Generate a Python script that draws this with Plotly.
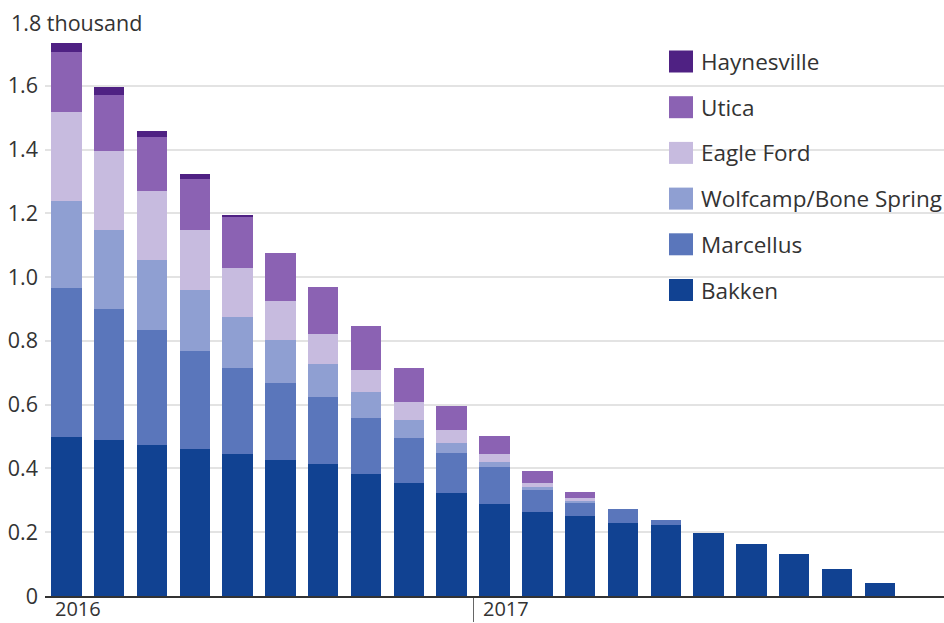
import plotly.graph_objects as go

# Monthly drilled-but-uncompleted well counts, thousands, by basin
periods = list(range(20))
bakken = [0.500, 0.489, 0.473, 0.460, 0.445, 0.428, 0.414, 0.382, 0.353, 0.322,
          0.290, 0.264, 0.251, 0.230, 0.222, 0.197, 0.163, 0.132, 0.085, 0.042]
marcellus = [0.465, 0.410, 0.361, 0.309, 0.269, 0.241, 0.209, 0.175, 0.144, 0.125,
             0.113, 0.068, 0.042, 0.043, 0.016, 0, 0, 0, 0, 0]
wolfcamp = [0.275, 0.248, 0.219, 0.192, 0.162, 0.134, 0.106, 0.083, 0.055, 0.033,
            0.018, 0.010, 0.007, 0, 0, 0, 0, 0, 0, 0]
eagle_ford = [0.279, 0.248, 0.217, 0.186, 0.154, 0.123, 0.094, 0.070, 0.057, 0.040,
              0.024, 0.011, 0.006, 0, 0, 0, 0, 0, 0, 0]
utica = [0.188, 0.176, 0.170, 0.162, 0.159, 0.151, 0.145, 0.136, 0.105, 0.077,
         0.057, 0.040, 0.019, 0, 0, 0, 0, 0, 0, 0]
haynesville = [0.028, 0.024, 0.019, 0.014, 0.005, 0, 0, 0, 0, 0,
               0, 0, 0, 0, 0, 0, 0, 0, 0, 0]

series_names = ["Bakken", "Marcellus", "Wolfcamp/Bone Spring", "Eagle Ford", "Utica", "Haynesville"]
series_values = [bakken, marcellus, wolfcamp, eagle_ford, utica, haynesville]
series_colors = ["#114292", "#5a76bb", "#8f9fd2", "#c7bbdf", "#8b62b3", "#4f2183"]

y_ticks = [0, 0.2, 0.4, 0.6, 0.8, 1.0, 1.2, 1.4, 1.6, 1.8]
y_tick_text = ["0", "0.2", "0.4", "0.6", "0.8", "1.0", "1.2", "1.4", "1.6", ""]
year_labels = ["2016", "2017"]
year_starts = [-0.5, 9.5]

FONT = "Open Sans"
FS = 21.5
TEXT = "#333333"
W, H = 944, 623
ML, MR, MT, MB = 45, 0, 22, 27

fig = go.Figure()
for name, vals, col in zip(series_names, series_values, series_colors):
    fig.add_trace(go.Bar(x=periods, y=vals, name=name, marker=dict(color=col, line=dict(width=0)),
                         width=0.71, showlegend=False))

fig.update_layout(
    barmode="stack",
    width=W, height=H,
    margin=dict(l=ML, r=MR, t=MT, b=MB),
    paper_bgcolor="white", plot_bgcolor="white",
    font=dict(family=FONT, size=FS, color=TEXT),
    xaxis=dict(range=[-0.5, 20.5], showgrid=False, zeroline=False,
               showline=True, linecolor="#333333", linewidth=1.5,
               tickvals=[year_starts[1]], ticks="outside", ticklen=24, tickwidth=1,
               tickcolor="#666666", showticklabels=False),
    yaxis=dict(range=[0, 1.8], tickvals=y_ticks, ticktext=y_tick_text,
               showgrid=True, gridcolor="#e3e3e3", gridwidth=1.5, zeroline=False,
               ticks="", ticklabelstandoff=6, tickfont=dict(size=FS, color=TEXT)),
)

plot_w = W - ML - MR
plot_h = H - MT - MB
def px_x(p):
    return (p - ML) / plot_w
def px_y(p):
    return (H - MB - p) / plot_h

# top axis label with the unit
fig.add_annotation(xref="paper", yref="y", x=px_x(7), y=1.8,
                   xanchor="left", yanchor="middle", text="1.8 thousand", showarrow=False,
                   bgcolor="white", borderpad=3, font=dict(size=FS, color=TEXT))

# year labels sit just right of the year boundary
for lab, xs in zip(year_labels, year_starts):
    fig.add_annotation(xref="x", yref="paper", x=xs, y=px_y(623), xanchor="left", yanchor="bottom",
                       xshift=9, text=lab, showarrow=False, borderpad=0,
                       font=dict(size=20, color=TEXT))

# legend: swatch + label, top series first
row0, row_step = 61.5, 45.7
for i, (name, col) in enumerate(zip(series_names[::-1], series_colors[::-1])):
    cy = row0 + i * row_step
    fig.add_shape(type="rect", xref="paper", yref="paper",
                  x0=px_x(669), x1=px_x(693), y0=px_y(cy + 11), y1=px_y(cy - 11),
                  fillcolor=col, line=dict(width=0))
    fig.add_annotation(xref="paper", yref="paper", x=px_x(699), y=px_y(cy),
                       xanchor="left", yanchor="middle", text=name, showarrow=False,
                       font=dict(size=22.5, color=TEXT))

fig.write_html("out.html")
